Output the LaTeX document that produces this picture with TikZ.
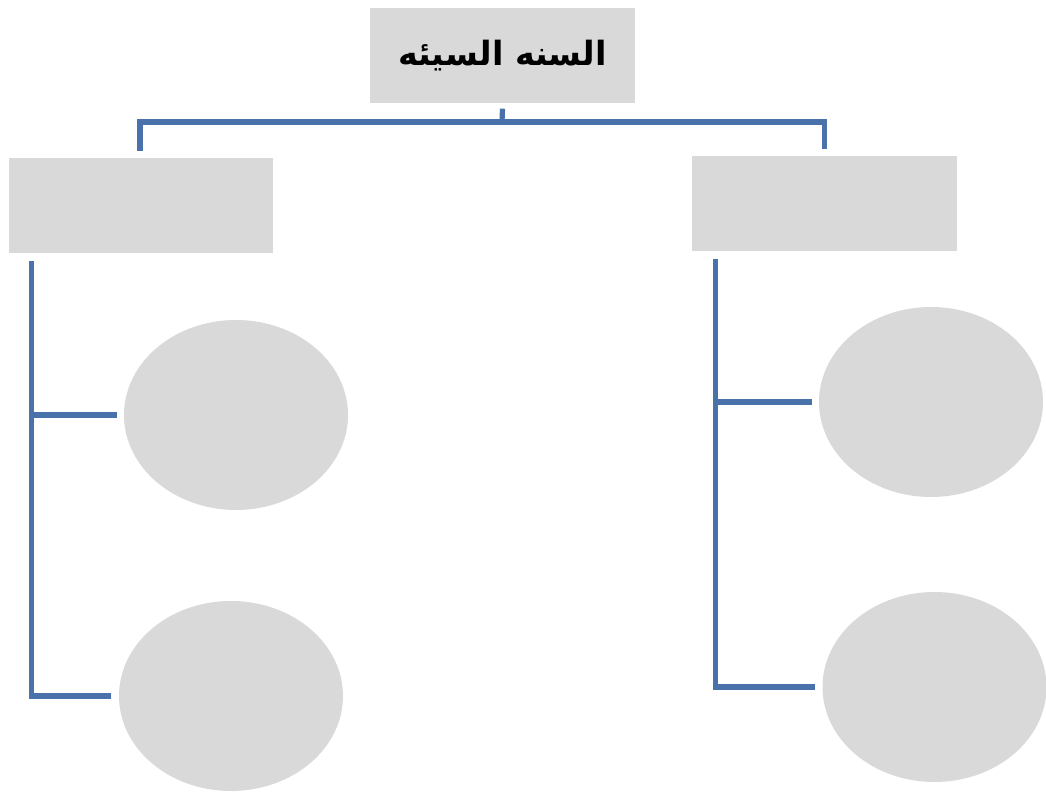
\documentclass[tikz,border=0pt]{standalone}
\usepackage{fontspec}
\usepackage{xcolor}
\usetikzlibrary{calc, shapes.geometric}

\TeXXeTstate=1
\newfontfamily\arabicfont[Script=Arabic]{DejaVu Sans}

\definecolor{boxgray}{RGB}{217,217,217}
\definecolor{linkblue}{RGB}{74,114,170}

\tikzset{
    graybox/.style={fill=boxgray, draw=none, minimum width=26.5mm, minimum height=9.5mm, inner sep=0pt},
    grayoval/.style={ellipse, fill=boxgray, draw=none, minimum width=22.4mm, minimum height=19mm, inner sep=0pt},
    link/.style={draw=linkblue, line width=0.52mm}
}

\begin{document}
\begin{tikzpicture}[x=0.1mm, y=-0.1mm]

    % Fix the page to the reference size
    \useasboundingbox (0,0) rectangle (1046,794);

    % 1. Boxes
    \node[graybox, font=\arabicfont\bfseries\fontsize{9.5}{12}\selectfont] (title) at (502.5,55.5) {\raisebox{0.5mm}{\beginR السنه السيئه\endR}};
    \node[graybox] (leftbox) at (141,205.5) {};
    \node[graybox] (rightbox) at (824.5,204) {};

    % 2. Ovals
    \node[grayoval] (lo1) at (236,415) {};
    \node[grayoval] (lo2) at (231,696) {};
    \node[grayoval] (ro1) at (931,402) {};
    \node[grayoval] (ro2) at (934.5,687) {};

    % 3. Top split
    \coordinate (bar) at (502,122);
    \draw[link] ($(title.south)+(0,5)$) -- (bar);
    \draw[link] ($(leftbox.north)+(-1,-6)$) |- (bar) -| ($(rightbox.north)+(0,-7)$);

    % 4. Left trunk and branches
    \coordinate (ltop) at ($(leftbox.south west)+(24,7)$);
    \draw[link, shorten >=0.7mm] (ltop) |- (lo2.west);
    \draw[link, shorten >=0.6mm] (ltop |- lo1.west) -- (lo1.west);

    % 5. Right trunk and branches
    \coordinate (rtop) at ($(rightbox.south west)+(24,7)$);
    \draw[link, shorten >=0.7mm] (rtop) |- (ro2.west);
    \draw[link, shorten >=0.6mm] (rtop |- ro1.west) -- (ro1.west);

\end{tikzpicture}
\end{document}
